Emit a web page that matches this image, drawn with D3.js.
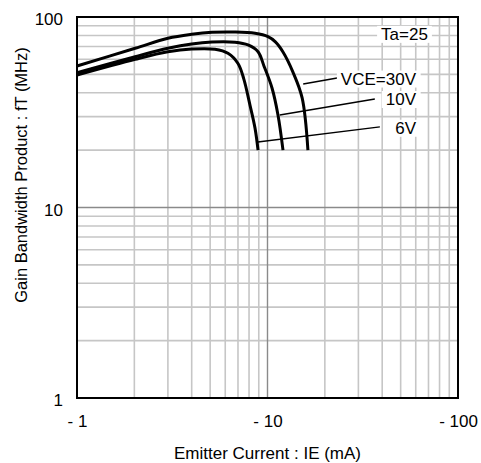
<!DOCTYPE html><meta charset="utf-8"><style>
    body { margin: 0; background: #fff; }
    text { font-family: "Liberation Sans", Arial, sans-serif; fill: #000; }
</style><svg width="481" height="463"></svg><script src="https://cdn.jsdelivr.net/npm/d3@7"></script><script>

    var width = 481, height = 463;
    var margin = ({top: 17, right: 23, bottom: 65, left: 77});

    // emitter current |IE| in mA, fT in MHz
    var ie30 = [1, 2.02, 3.0, 4.0, 5.11, 6.75, 8.6, 10.06, 11.0, 12.06, 13.6, 15.2, 16.3];
    var ft30 = [55.3, 68.5, 77.3, 81.1, 83.1, 83.4, 82.1, 78.8, 74.0, 65.5, 51.4, 37.6, 20];
    var ie10 = [1, 2.02, 3.0, 4.0, 5.11, 6.75, 7.9, 8.92, 9.6, 10.56, 11.35, 12.06];
    var ft10 = [51.0, 61.9, 68.5, 72.2, 73.9, 73.7, 71.3, 65.7, 55.0, 42.4, 30.6, 20];
    var ie6 = [1, 2.02, 3.0, 4.0, 5.3, 6.2, 7.0, 7.5, 8.09, 8.6, 8.92];
    var ft6 = [49.6, 60.0, 65.7, 67.9, 67.7, 64.5, 57.0, 47.5, 34.5, 26.1, 20];

    var xTicks = [1, 10, 100];
    var yTicks = [1, 10, 100];

    // labels: leader from [ie, ft] to [ie, ft], text right end at ie
    var labels = [
        {text: "VCE=30V", from: [15.4, 44.5], to: [23.2, 47.9], ft: 47.5},
        {text: "10V", from: [11.6, 30.6], to: [36.6, 37.1], ft: 37.1},
        {text: "6V", from: [8.9, 22.1], to: [38.9, 26.5], ft: 26.2}
    ];
    var labelEnd = 60.2;
    var note = {text: "Ta=25", ie: 69.5, ft: 81.5};

    var series = [
        {ie: ie30, ft: ft30},
        {ie: ie10, ft: ft10},
        {ie: ie6, ft: ft6}
    ];

    var x = d3.scaleLog().domain([1, 100]).range([margin.left, width - margin.right]);
    var y = d3.scaleLog().domain([1, 100]).range([height - margin.bottom, margin.top]);

    var svg = d3.select("svg");

    // grid
    var minor = [];
    [1, 10].forEach(d => { for (var k = 2; k <= 9; k++) minor.push(d * k); });

    var grid = svg.append("g");
    grid.selectAll(".vx").data(minor).join("line")
        .attr("x1", d => x(d)).attr("x2", d => x(d))
        .attr("y1", y(1)).attr("y2", y(100))
        .attr("stroke", "#c6c6c6").attr("stroke-width", 1.6);
    grid.selectAll(".hy").data(minor).join("line")
        .attr("class", "hy")
        .attr("y1", d => y(d)).attr("y2", d => y(d))
        .attr("x1", x(1)).attr("x2", x(100))
        .attr("stroke", "#c6c6c6").attr("stroke-width", 1.6);
    grid.append("line")
        .attr("x1", x(10)).attr("x2", x(10)).attr("y1", y(1)).attr("y2", y(100))
        .attr("stroke", "#8a8a8a").attr("stroke-width", 1.4);
    grid.append("line")
        .attr("y1", y(10)).attr("y2", y(10)).attr("x1", x(1)).attr("x2", x(100))
        .attr("stroke", "#8a8a8a").attr("stroke-width", 1.4);

    // curves
    var line = d3.line()
        .x(d => x(d[0]))
        .y(d => y(d[1]))
        .curve(d3.curveCatmullRom.alpha(0.5));

    svg.append("g").selectAll("path")
        .data(series)
        .join("path")
        .attr("d", s => line(s.ie.map((v, i) => [v, s.ft[i]])))
        .attr("fill", "none")
        .attr("stroke", "#000")
        .attr("stroke-width", 3);

    // labels with white background
    var lab = svg.append("g");
    labels.forEach(l => {
        lab.append("line")
            .attr("x1", x(l.from[0])).attr("y1", y(l.from[1]))
            .attr("x2", x(l.to[0])).attr("y2", y(l.to[1]))
            .attr("stroke", "#000").attr("stroke-width", 1.5);
    });
    var texts = labels.map(l => ({text: l.text, ie: labelEnd, ft: l.ft})).concat([note]);
    texts.forEach(t => {
        var g = lab.append("g");
        var tx = g.append("text")
            .attr("x", x(t.ie)).attr("y", y(t.ft))
            .attr("dy", "0.35em")
            .attr("text-anchor", "end")
            .attr("font-size", 17)
            .text(t.text);
        var b = tx.node().getBBox();
        g.insert("rect", "text")
            .attr("x", b.x - 4).attr("y", b.y + 1)
            .attr("width", b.width + 8).attr("height", b.height - 2)
            .attr("fill", "#fff");
    });

    // frame
    svg.append("rect")
        .attr("x", x(1)).attr("y", y(100))
        .attr("width", x(100) - x(1)).attr("height", y(1) - y(100))
        .attr("fill", "none").attr("stroke", "#000").attr("stroke-width", 2);

    // axes
    svg.append("g")
        .attr("transform", `translate(0,${height - margin.bottom})`)
        .call(d3.axisBottom(x).tickValues(xTicks).tickSize(0).tickPadding(17)
            .tickFormat(d => "- " + d))
        .call(g => g.select(".domain").remove())
        .call(g => g.selectAll("text").attr("font-size", 17).attr("font-family", null));

    svg.append("g")
        .attr("transform", `translate(${margin.left},0)`)
        .call(d3.axisLeft(y).tickValues(yTicks).tickSize(0).tickPadding(14)
            .tickFormat(d3.format("d")))
        .call(g => g.select(".domain").remove())
        .call(g => g.selectAll("text").attr("font-size", 17).attr("font-family", null)
            .attr("dy", "0.45em"));

    svg.append("text")
        .attr("x", x(10)).attr("y", 459)
        .attr("text-anchor", "middle")
        .attr("font-size", 17)
        .text("Emitter Current : IE (mA)");

    svg.append("text")
        .attr("transform", "translate(27,175) rotate(-90)")
        .attr("text-anchor", "middle")
        .attr("font-size", 16.5)
        .text("Gain Bandwidth Product : fT (MHz)");

</script>
